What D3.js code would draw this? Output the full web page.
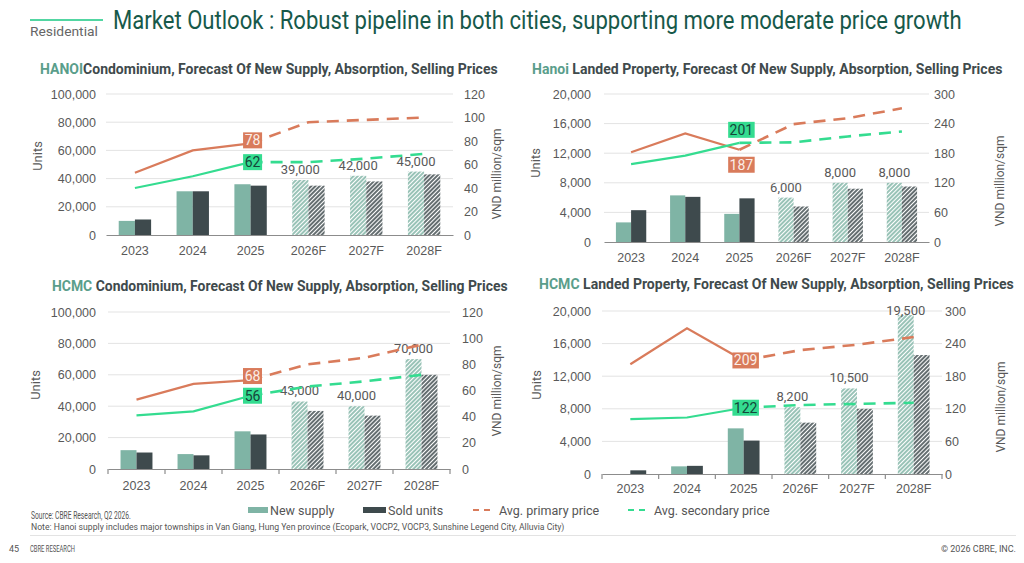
<!DOCTYPE html>
<html>
<head>
<meta charset="utf-8">
<script src="https://cdn.jsdelivr.net/npm/d3@7"></script>
<style>
  body { margin: 0; background: #fff; }
  svg { display: block; font-family: Roboto, "Liberation Sans", sans-serif; }
</style>
</head>
<body>
<svg id="chart" width="1024" height="563"></svg>
<script>
const categories = ["2023", "2024", "2025", "2026F", "2027F", "2028F"];

const condoUnitTicks = [0, 20000, 40000, 60000, 80000, 100000];
const condoPriceTicks = [0, 20, 40, 60, 80, 100, 120];
const landedUnitTicks = [0, 4000, 8000, 12000, 16000, 20000];
const landedPriceTicks = [0, 60, 120, 180, 240, 300];

const hanoiCondoSupply = [10000, 31000, 36000, 39000, 42000, 45000];
const hanoiCondoSold = [11000, 31000, 35000, 35000, 38000, 43000];
const hanoiCondoPrimary = [53, 72, 78, 96, 98, 100];
const hanoiCondoSecondary = [40, 50, 62, 62, 65, 69];

const hanoiLandedSupply = [2650, 6300, 3800, 6000, 8000, 8000];
const hanoiLandedSold = [4300, 6100, 5900, 4800, 7200, 7500];
const hanoiLandedPrimary = [182, 220, 187, 239, 251, 271];
const hanoiLandedSecondary = [158, 175, 201, 202, 214, 224];

const hcmcCondoSupply = [12000, 9500, 24000, 43000, 40000, 70000];
const hcmcCondoSold = [10500, 8700, 22000, 37000, 34000, 60000];
const hcmcCondoPrimary = [53, 65, 68, 80, 85, 95];
const hcmcCondoSecondary = [41, 44, 56, 63, 67, 72];

const hcmcLandedSupply = [0, 940, 5600, 8200, 10500, 19500];
const hcmcLandedSold = [450, 1000, 4100, 6300, 8000, 14600];
const hcmcLandedPrimary = [202, 268, 209, 228, 238, 252];
const hcmcLandedSecondary = [101, 104, 122, 127, 129, 131];

const colors = {
  supply: "#7fb4a5",
  sold: "#3e4a4d",
  primary: "#d97b5b",
  secondary: "#34dc90",
  city: "#5a9e8b",
  text: "#595959",
  grid: "#e3e3e3"
};

const svg = d3.select("#chart");
const fmt = d3.format(",");

// squeeze a text horizontally so it spans the given width (the source uses a narrow face)
function fitWidth(sel, x, y, width) {
  const w = sel.node().getComputedTextLength();
  sel.attr("x", 0).attr("y", 0)
    .attr("transform", `translate(${x},${y}) scale(${Math.min(1.3, width / w)},1)`);
  return sel;
}

// hatch patterns for forecast bars
const defs = svg.append("defs");
[["hatchSupply", colors.supply], ["hatchSold", colors.sold]].forEach(([id, c]) => {
  const p = defs.append("pattern")
    .attr("id", id)
    .attr("patternUnits", "userSpaceOnUse")
    .attr("width", 3).attr("height", 3)
    .attr("patternTransform", "rotate(45)");
  p.append("rect").attr("width", 3).attr("height", 3).attr("fill", "#fff");
  p.append("line").attr("x1", 1).attr("y1", 0).attr("x2", 1).attr("y2", 3)
    .attr("stroke", c).attr("stroke-width", 1.6);
});

// header
svg.append("line").attr("x1", 30).attr("x2", 103).attr("y1", 20).attr("y2", 20)
  .attr("stroke", "#52d6a2").attr("stroke-width", 2);
fitWidth(svg.append("text").attr("font-size", 12).attr("fill", "#666").text("Residential"), 30, 36, 68);
fitWidth(svg.append("text").attr("font-size", 25).attr("fill", "#17594a")
  .text("Market Outlook : Robust pipeline in both cities, supporting more moderate price growth"),
  113, 29, 849);

const panels = [
  {
    city: "HANOI", rest: "Condominium, Forecast Of New Supply, Absorption, Selling Prices",
    titleX: 40, titleY: 74, titleW: 458,
    left: 106, right: 453, top: 94, bottom: 235,
    unitTicks: condoUnitTicks, priceTicks: condoPriceTicks,
    supply: hanoiCondoSupply, sold: hanoiCondoSold,
    primary: hanoiCondoPrimary, secondary: hanoiCondoSecondary,
    leftLabelX: 96, rightLabelX: 464, unitsX: 42, unitsY: 156, vndX: 497, vndY: 174,
    xLabelY: 255, primaryDy: -3, secondaryDy: 0, xTicks: false
  },
  {
    city: "Hanoi", rest: " Landed Property, Forecast Of New Supply, Absorption, Selling Prices",
    titleX: 532, titleY: 74, titleW: 471,
    left: 604, right: 929, top: 94, bottom: 242,
    unitTicks: landedUnitTicks, priceTicks: landedPriceTicks,
    supply: hanoiLandedSupply, sold: hanoiLandedSold,
    primary: hanoiLandedPrimary, secondary: hanoiLandedSecondary,
    leftLabelX: 591, rightLabelX: 934, unitsX: 540, unitsY: 163, vndX: 1000, vndY: 181,
    xLabelY: 262, primaryDy: 15, secondaryDy: -13, xTicks: false
  },
  {
    city: "HCMC", rest: " Condominium, Forecast Of New Supply, Absorption, Selling Prices",
    titleX: 52, titleY: 291, titleW: 456,
    left: 108, right: 450, top: 312, bottom: 469,
    unitTicks: condoUnitTicks, priceTicks: condoPriceTicks,
    supply: hcmcCondoSupply, sold: hcmcCondoSold,
    primary: hcmcCondoPrimary, secondary: hcmcCondoSecondary,
    leftLabelX: 96, rightLabelX: 462, unitsX: 40, unitsY: 385, vndX: 497, vndY: 391,
    xLabelY: 490, primaryDy: -4, secondaryDy: 0, xTicks: true
  },
  {
    city: "HCMC", rest: " Landed Property, Forecast Of New Supply, Absorption, Selling Prices",
    titleX: 539, titleY: 289, titleW: 475,
    left: 602, right: 942, top: 311, bottom: 474,
    unitTicks: landedUnitTicks, priceTicks: landedPriceTicks,
    supply: hcmcLandedSupply, sold: hcmcLandedSold,
    primary: hcmcLandedPrimary, secondary: hcmcLandedSecondary,
    leftLabelX: 591, rightLabelX: 945, unitsX: 541, unitsY: 385, vndX: 1001, vndY: 407,
    xLabelY: 493, primaryDy: 0, secondaryDy: 0, xTicks: true
  }
];

function drawPanel(p) {
  const g = svg.append("g");

  // title
  const title = g.append("text").attr("font-size", 14.5).attr("font-weight", "bold");
  title.append("tspan").attr("fill", colors.city).text(p.city);
  title.append("tspan").attr("fill", "#404a4c").text(p.rest);
  fitWidth(title, p.titleX, p.titleY, p.titleW);

  const x0 = d3.scaleBand().domain(categories).range([p.left, p.right]);
  const bw = x0.bandwidth();
  const x1 = d3.scaleBand().domain(["supply", "sold"]).range([bw * 0.22, bw * 0.78]);
  const yL = d3.scaleLinear().domain([0, d3.max(p.unitTicks)]).range([p.bottom, p.top]);
  const yR = d3.scaleLinear().domain([0, d3.max(p.priceTicks)]).range([p.bottom, p.top]);

  // gridlines
  g.append("g").selectAll("line").data(p.unitTicks.slice(1)).join("line")
    .attr("x1", p.left).attr("x2", p.right)
    .attr("y1", d => yL(d)).attr("y2", d => yL(d))
    .attr("stroke", colors.grid).attr("stroke-width", 1);

  // left axis
  const la = g.append("g").attr("transform", `translate(${p.leftLabelX},0)`)
    .call(d3.axisLeft(yL).tickValues(p.unitTicks).tickFormat(fmt).tickSize(0).tickPadding(0));
  la.select(".domain").remove();
  la.selectAll("text").attr("font-size", 12.5).attr("fill", colors.text).style("font-family", null);

  // right axis
  const ra = g.append("g").attr("transform", `translate(${p.rightLabelX},0)`)
    .call(d3.axisRight(yR).tickValues(p.priceTicks).tickSize(0).tickPadding(0));
  ra.select(".domain").remove();
  ra.selectAll("text").attr("font-size", 12.5).attr("fill", colors.text).style("font-family", null);

  // bars
  const rows = categories.map((c, i) => ({ c, i, f: c.endsWith("F"), supply: p.supply[i], sold: p.sold[i] }));
  const cat = g.append("g").selectAll("g").data(rows).join("g")
    .attr("transform", d => `translate(${x0(d.c)},0)`);
  cat.append("rect")
    .attr("x", x1("supply")).attr("width", x1.bandwidth())
    .attr("y", d => yL(d.supply)).attr("height", d => yL(0) - yL(d.supply))
    .attr("fill", d => d.f ? "url(#hatchSupply)" : colors.supply);
  cat.append("rect")
    .attr("x", x1("sold")).attr("width", x1.bandwidth())
    .attr("y", d => yL(d.sold)).attr("height", d => yL(0) - yL(d.sold))
    .attr("fill", d => d.f ? "url(#hatchSold)" : colors.sold);
  cat.filter(d => d.f).append("text")
    .attr("x", x1("supply") + x1.bandwidth() / 2)
    .attr("y", d => Math.max(yL(d.supply) - 6, p.top + 4))
    .attr("text-anchor", "middle").attr("font-size", 13).attr("fill", colors.text)
    .text(d => fmt(d.supply));

  // x axis
  const xa = g.append("g").attr("transform", `translate(0,${p.bottom})`)
    .call(d3.axisBottom(x0).tickSize(0).tickPadding(0));
  xa.select(".domain").attr("stroke", "#8c8c8c").attr("stroke-width", 1.2);
  xa.selectAll("text").attr("y", p.xLabelY - p.bottom).attr("dy", 0)
    .attr("font-size", 12.5).attr("fill", colors.text).style("font-family", null);
  if (p.xTicks) {
    const edges = categories.map(c => x0(c)).concat([p.right]);
    xa.selectAll(".edge").data(edges).join("line").attr("class", "edge")
      .attr("x1", d => d).attr("x2", d => d).attr("y1", 0).attr("y2", 5)
      .attr("stroke", "#8c8c8c").attr("stroke-width", 1.2);
  }

  // price lines: solid for actuals, dashed from the last actual year
  const lastActual = categories.findIndex(c => c.endsWith("F")) - 1;
  const line = d3.line().x(d => x0(d.c) + bw / 2).y(d => yR(d.v));
  [["primary", colors.primary], ["secondary", colors.secondary]].forEach(([key, c]) => {
    const pts = categories.map((cc, i) => ({ c: cc, v: p[key][i] }));
    g.append("path").datum(pts.slice(0, lastActual + 1))
      .attr("d", line).attr("fill", "none").attr("stroke", c).attr("stroke-width", 2.2);
    g.append("path").datum(pts.slice(lastActual))
      .attr("d", line).attr("fill", "none").attr("stroke", c).attr("stroke-width", 2.6)
      .attr("stroke-dasharray", "12,8");
  });

  // value boxes on the last actual year
  [["primary", colors.primary, "#fbeee8", p.primaryDy], ["secondary", colors.secondary, "#14463a", p.secondaryDy]]
    .forEach(([key, bg, fg, dy]) => {
      const v = p[key][lastActual];
      const cx = x0(categories[lastActual]) + bw / 2 + 2;
      const cy = yR(v) + dy;
      const w = String(v).length * 7.5 + 4;
      g.append("rect").attr("x", cx - w / 2).attr("y", cy - 8).attr("width", w).attr("height", 16)
        .attr("fill", bg);
      g.append("text").attr("x", cx).attr("y", cy + 5).attr("text-anchor", "middle")
        .attr("font-size", 14).attr("fill", fg).text(v);
    });

  // axis titles
  g.append("text").attr("transform", `translate(${p.unitsX},${p.unitsY}) rotate(-90)`)
    .attr("text-anchor", "middle").attr("font-size", 13).attr("fill", colors.text).text("Units");
  g.append("text").attr("transform", `translate(${p.vndX},${p.vndY}) rotate(-90)`)
    .attr("text-anchor", "middle").attr("dy", 4).attr("font-size", 12).attr("fill", colors.text)
    .text("VND million/sqm");
}

panels.forEach(drawPanel);

// legend
const legend = svg.append("g").attr("font-size", 12.5).attr("fill", "#555");
legend.append("rect").attr("x", 248).attr("y", 507).attr("width", 20).attr("height", 6).attr("fill", colors.supply);
legend.append("text").attr("x", 270).attr("y", 515).text("New supply");
legend.append("rect").attr("x", 363).attr("y", 507).attr("width", 23).attr("height", 6).attr("fill", colors.sold);
legend.append("text").attr("x", 388).attr("y", 515).text("Sold units");
[[473, colors.primary, "Avg. primary price"], [628, colors.secondary, "Avg. secondary price"]].forEach(([lx, c, t]) => {
  legend.append("line").attr("x1", lx).attr("x2", lx + 18).attr("y1", 510).attr("y2", 510)
    .attr("stroke", c).attr("stroke-width", 2).attr("stroke-dasharray", "6,5");
  legend.append("text").attr("x", lx + 26).attr("y", 515).text(t);
});

// footer
fitWidth(svg.append("text").attr("font-size", 10).attr("fill", "#555")
  .text("Source: CBRE Research, Q2 2026."), 31, 519, 100);
fitWidth(svg.append("text").attr("font-size", 9.5).attr("fill", "#555")
  .text("Note: Hanoi supply includes major townships in Van Giang, Hung Yen province (Ecopark, VOCP2, VOCP3, Sunshine Legend City, Alluvia City)"),
  31, 530, 534);
svg.append("line").attr("x1", 30).attr("x2", 1016).attr("y1", 535.5).attr("y2", 535.5)
  .attr("stroke", "#e3e3e3");
svg.append("text").attr("x", 9).attr("y", 552).attr("font-size", 9).attr("fill", "#555").text("45");
fitWidth(svg.append("text").attr("font-size", 9).attr("fill", "#555").text("CBRE RESEARCH"), 30, 552, 45);
svg.append("text").attr("x", 1016).attr("y", 552).attr("font-size", 9).attr("fill", "#555")
  .attr("text-anchor", "end").text("© 2026 CBRE, INC.");
</script>
</body>
</html>
